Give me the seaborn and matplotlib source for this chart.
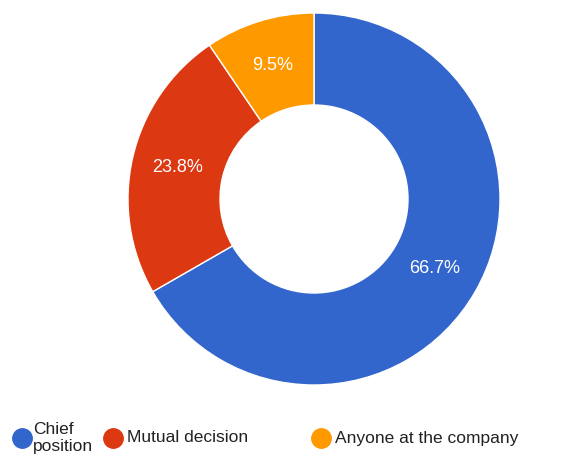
import matplotlib
matplotlib.use("Agg")
import matplotlib.pyplot as plt
from matplotlib.lines import Line2D
import seaborn as sns

categories = ["Chief\nposition", "Mutual decision", "Anyone at the company"]
shares = [66.7, 23.8, 9.5]
colors = ["#3366CC", "#DC3912", "#FF9900"]

sns.set_theme(style="white")
plt.rcParams["font.family"] = ["Liberation Sans", "DejaVu Sans"]
palette = sns.color_palette(colors)

W, H = 581, 466
fig = plt.figure(figsize=(W / 100, H / 100), dpi=100)
ax = fig.add_axes([0, 0, 1, 1])

wedges, texts, autotexts = ax.pie(
    shares,
    colors=palette,
    startangle=90,
    counterclock=False,
    center=(314, H - 199),
    radius=186,
    autopct="%.1f%%",
    pctdistance=0.75,
    wedgeprops=dict(width=92, edgecolor="white", linewidth=1),
    textprops=dict(color="white", fontsize=13),
    frame=True,
)
ax.set_xlim(0, W)
ax.set_ylim(0, H)
ax.set_aspect("equal")
ax.axis("off")

# legend row along the bottom
legend_items = [(22, 33), (113, 127), (321, 335)]
y_leg = H - 438
for (cx, tx), label, col in zip(legend_items, categories, palette):
    ax.add_line(Line2D([cx], [y_leg], marker="o", markersize=14,
                       markerfacecolor=col, markeredgecolor=col, linestyle=""))
    ax.text(tx, y_leg, label, fontsize=12.5, color="#222222",
            va="center", ha="left", linespacing=1.25)

fig.savefig("out.png", dpi=100)
